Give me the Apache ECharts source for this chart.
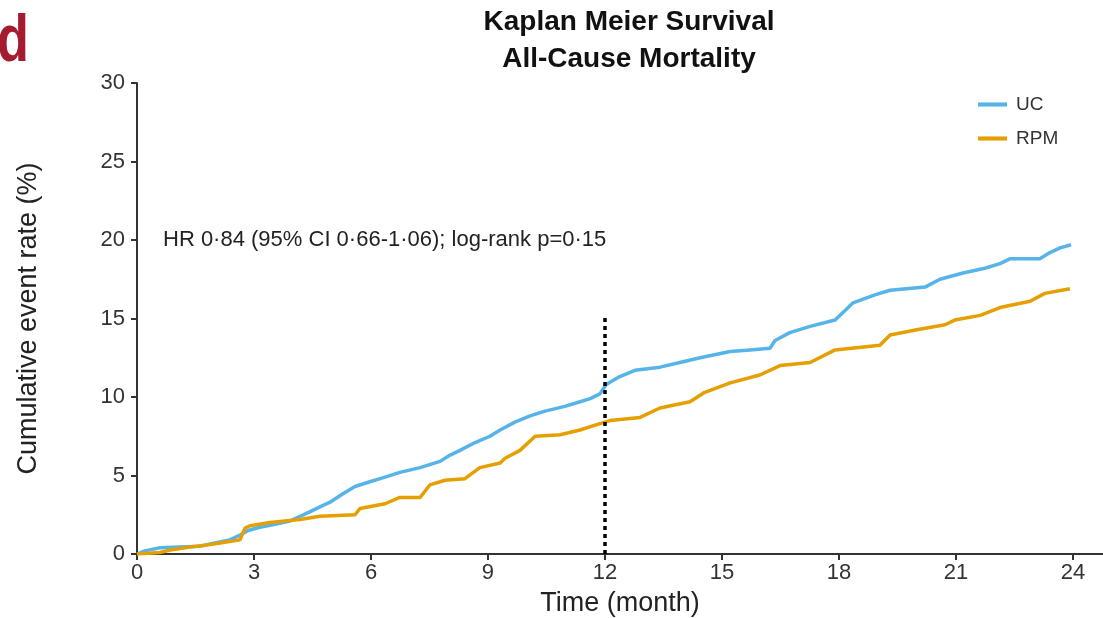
<!DOCTYPE html>
<html>
<head>
<meta charset="utf-8">
<script src="https://cdn.jsdelivr.net/npm/echarts@6/dist/echarts.min.js"></script>
<style>
  html, body { margin: 0; padding: 0; background: #fff; }
  #chart { width: 1103px; height: 618px; }
</style>
</head>
<body>
<div id="chart"></div>
<script>
// months and cumulative event rate (%)
const ucTime = [0, 0.2, 0.59, 1.62, 2.0, 2.38, 2.64, 2.85, 3.15, 3.54, 3.92, 4.18, 4.44, 4.69, 4.95, 5.26, 5.59, 5.97, 6.36, 6.74, 7.26, 7.77, 8.03, 8.28, 8.67, 9.05, 9.31, 9.69, 10.08, 10.46, 10.97, 11.36, 11.62, 11.87, 12.03, 12.38, 12.77, 13.41, 13.92, 14.44, 15.21, 15.72, 16.23, 16.36, 16.74, 17.26, 17.9, 18.15, 18.36, 18.92, 19.31, 20.21, 20.59, 21.18, 21.74, 22.13, 22.38, 23.15, 23.41, 23.67, 23.95];
const ucRate = [0, 0.2, 0.4, 0.5, 0.7, 0.9, 1.2, 1.5, 1.7, 1.9, 2.1, 2.4, 2.7, 3.0, 3.3, 3.8, 4.3, 4.6, 4.9, 5.2, 5.5, 5.9, 6.3, 6.6, 7.1, 7.5, 7.9, 8.4, 8.8, 9.1, 9.4, 9.7, 9.9, 10.2, 10.8, 11.3, 11.7, 11.9, 12.2, 12.5, 12.9, 13.0, 13.1, 13.6, 14.1, 14.5, 14.9, 15.5, 16.0, 16.5, 16.8, 17.0, 17.5, 17.9, 18.2, 18.5, 18.8, 18.8, 19.2, 19.5, 19.7];

const rpmTime = [0, 0.59, 0.85, 1.36, 1.74, 2.13, 2.64, 2.77, 2.9, 3.41, 4.18, 4.69, 5.59, 5.72, 6.36, 6.74, 7.26, 7.51, 7.9, 8.41, 8.79, 9.31, 9.44, 9.82, 10.21, 10.85, 11.36, 11.87, 12.13, 12.9, 13.41, 14.18, 14.56, 15.21, 15.97, 16.49, 17.26, 17.9, 19.05, 19.31, 20.03, 20.72, 20.97, 21.62, 22.13, 22.9, 23.28, 23.92];
const rpmRate = [0, 0.1, 0.25, 0.45, 0.55, 0.7, 0.9, 1.65, 1.8, 2.0, 2.2, 2.4, 2.5, 2.9, 3.2, 3.6, 3.6, 4.4, 4.7, 4.8, 5.5, 5.8, 6.1, 6.6, 7.5, 7.6, 7.9, 8.3, 8.5, 8.7, 9.3, 9.7, 10.3, 10.9, 11.4, 12.0, 12.2, 13.0, 13.3, 13.95, 14.3, 14.6, 14.9, 15.2, 15.7, 16.1, 16.6, 16.9];

const xTicks = [0, 3, 6, 9, 12, 15, 18, 21, 24];
const landmark = 12;
const landmarkTop = 15.2;

const font = 'Liberation Sans, Arial, sans-serif';
const axisColor = '#333';

const chart = echarts.init(document.getElementById('chart'));

function pairs(t, v) {
  return t.map((x, i) => [x, v[i]]);
}

chart.setOption({
  backgroundColor: '#fff',
  animation: false,
  title: {
    text: 'Kaplan Meier Survival\nAll-Cause Mortality',
    left: 624,
    top: -1,
    textAlign: 'center',
    textStyle: { fontFamily: font, fontSize: 28, fontWeight: 'bold', color: '#111', lineHeight: 37 }
  },
  graphic: [
    {
      type: 'text', x: -3, y: 9, scaleX: 0.78,
      style: { text: 'd', font: 'bold 67px ' + font, fill: '#A51C30' }
    },
    {
      type: 'text', left: 163, top: 229,
      style: { text: 'HR 0·84 (95% CI 0·66-1·06); log-rank p=0·15', font: '22px ' + font, fill: '#222' }
    }
  ],
  legend: {
    orient: 'vertical',
    left: 973,
    top: 90,
    itemGap: 15,
    itemWidth: 29,
    itemHeight: 8,
    textStyle: { fontFamily: font, fontSize: 19, color: '#333', padding: [0, 0, 0, 4] },
    data: [
      { name: 'UC', icon: 'path://M0,0 L28,0 L28,4 L0,4 Z' },
      { name: 'RPM', icon: 'path://M0,0 L28,0 L28,4 L0,4 Z' }
    ]
  },
  grid: { left: 137, right: 0, top: 83, bottom: 64, outerBoundsMode: 'none' },
  xAxis: {
    type: 'value',
    min: 0,
    max: 24.77,
    name: 'Time (month)',
    nameLocation: 'middle',
    nameGap: 36,
    nameTextStyle: { fontFamily: font, fontSize: 27, color: '#222' },
    axisLine: { show: true, lineStyle: { color: axisColor, width: 2 } },
    axisTick: { show: true, length: 6, lineStyle: { color: axisColor, width: 2 }, customValues: xTicks },
    axisLabel: { fontFamily: font, fontSize: 22, color: '#333', margin: 8, customValues: xTicks },
    splitLine: { show: false }
  },
  yAxis: {
    type: 'value',
    min: 0,
    max: 30,
    interval: 5,
    name: 'Cumulative event rate (%)',
    nameLocation: 'middle',
    nameGap: 95,
    nameTextStyle: { fontFamily: font, fontSize: 27, color: '#222' },
    axisLine: { show: true, lineStyle: { color: axisColor, width: 2 } },
    axisTick: { show: true, length: 6, lineStyle: { color: axisColor, width: 2 } },
    axisLabel: { fontFamily: font, fontSize: 22, color: '#333', margin: 12 },
    splitLine: { show: false }
  },
  series: [
    {
      name: 'UC',
      type: 'line',
      showSymbol: false,
      color: '#56B4E9',
      lineStyle: { width: 3.5, color: '#56B4E9' },
      data: pairs(ucTime, ucRate),
      z: 3
    },
    {
      name: 'RPM',
      type: 'line',
      showSymbol: false,
      color: '#E69F00',
      lineStyle: { width: 3.5, color: '#E69F00' },
      data: pairs(rpmTime, rpmRate),
      z: 4,
      markLine: {
        silent: true,
        symbol: 'none',
        label: { show: false },
        lineStyle: { color: '#000', type: [4, 4], width: 3.5 },
        data: [[{ coord: [landmark, 0] }, { coord: [landmark, landmarkTop] }]]
      }
    }
  ]
});
</script>
</body>
</html>
